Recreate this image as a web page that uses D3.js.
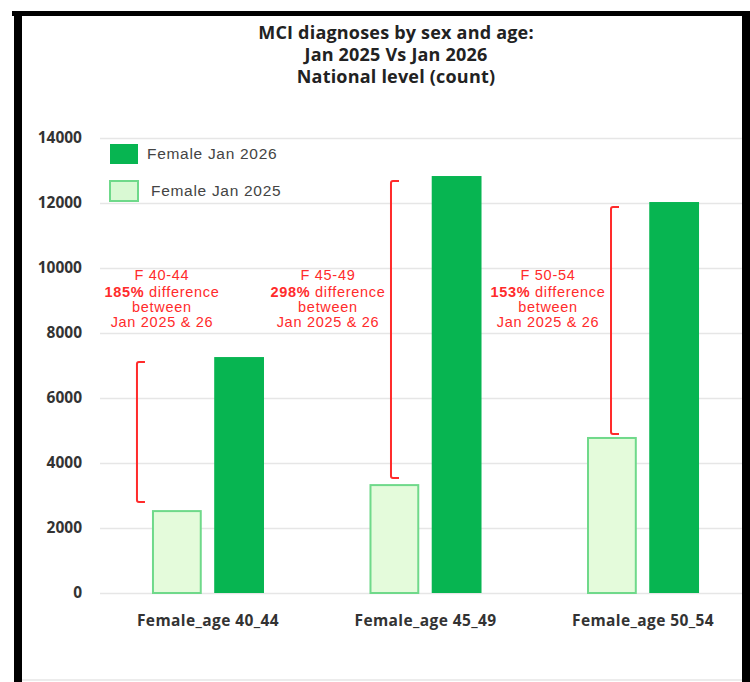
<!DOCTYPE html>
<html>
<head>
<meta charset="utf-8">
<script src="https://cdn.jsdelivr.net/npm/d3@7"></script>
<style>
  body { margin: 0; background: #fff; }
  svg { display: block; }
</style>
</head>
<body>
<div id="chart"></div>
<script>
// chart data
const categories = ['Female_age 40_44', 'Female_age 45_49', 'Female_age 50_54'];
const seriesNames = ['Female Jan 2025', 'Female Jan 2026'];
const jan2025 = [2520, 3320, 4770];
const jan2026 = [7260, 12830, 12030];
const yTicks = [0, 2000, 4000, 6000, 8000, 10000, 12000, 14000];
const titleLines = ['MCI diagnoses by sex and age:', 'Jan 2025 Vs Jan 2026', 'National level (count)'];

// red annotations
const annoAges = ['F 40-44', 'F 45-49', 'F 50-54'];
const annoPct = ['185%', '298%', '153%'];
const bracketTop = [7110, 12680, 11880];
const bracketBottom = [2800, 3540, 4890];

const width = 750, height = 682;
const svg = d3.select('#chart').append('svg')
    .attr('width', width)
    .attr('height', height);

const y = d3.scaleLinear().domain([0, 14000]).range([593, 138]);
const x0 = d3.scaleBand().domain(categories).range([99, 752])
    .paddingInner(0.485).paddingOuter(0.2435);
const x1 = d3.scaleBand().domain(seriesNames).range([0, x0.bandwidth()])
    .paddingInner(0.2);

// gridlines + y labels
const yAxis = svg.append('g')
    .attr('transform', 'translate(100,0)')
    .call(d3.axisLeft(y).tickValues(yTicks).tickSize(-642).tickPadding(18).tickFormat(d3.format('d')));
yAxis.select('.domain').remove();
yAxis.selectAll('.tick line').attr('stroke', '#e6e6e6').attr('stroke-width', 1.5);
yAxis.selectAll('.tick text')
    .attr('fill', '#333')
    .style('font', '700 15.5px "Open Sans", sans-serif');

// x labels
const xAxis = svg.append('g')
    .attr('transform', 'translate(0,593)')
    .call(d3.axisBottom(x0).tickSize(0).tickPadding(22));
xAxis.select('.domain').remove();
xAxis.selectAll('.tick text')
    .attr('fill', '#333')
    .style('font', '700 15.5px "Open Sans", sans-serif')
    .style('letter-spacing', '0.4px');

// bars
const rows = categories.map((c, i) => ({ cat: c, vals: [jan2025[i], jan2026[i]] }));
const groups = svg.selectAll('.grp').data(rows).enter().append('g')
    .attr('transform', d => `translate(${x0(d.cat)},0)`);

groups.selectAll('rect')
    .data(d => d.vals.map((v, j) => ({ key: seriesNames[j], value: v })))
    .enter().append('rect')
    .attr('x', d => x1(d.key) + (d.key === seriesNames[0] ? 1 : 0))
    .attr('width', d => x1.bandwidth() - (d.key === seriesNames[0] ? 2 : 0))
    .attr('y', d => y(d.value))
    .attr('height', d => y(0) - y(d.value))
    .attr('fill', d => d.key === seriesNames[0] ? '#e4fbdb' : '#07b551')
    .attr('stroke', d => d.key === seriesNames[0] ? '#6fd98a' : 'none')
    .attr('stroke-width', 2);

// annotations
const red = '#ff2b2b';
const bracketDx = [-15, 21.5, 24];
const textDx = [10, -41.5, -39];
categories.forEach((c, i) => {
    const bx = x0(c) + bracketDx[i];
    const t = y(bracketTop[i]), b = y(bracketBottom[i]);
    svg.append('path')
        .attr('d', `M${bx + 8},${t} H${bx + 2} Q${bx},${t} ${bx},${t + 2} V${b - 2} Q${bx},${b} ${bx + 2},${b} H${bx + 8}`)
        .attr('fill', 'none')
        .attr('stroke', red)
        .attr('stroke-width', 2);

    const tx = x0(c) + textDx[i];
    const txt = svg.append('text')
        .attr('text-anchor', 'middle')
        .attr('fill', red)
        .style('font', '14.5px "Liberation Sans", Arial, sans-serif')
        .style('letter-spacing', '0.7px');
    txt.append('tspan').attr('x', tx).attr('y', 280).text(annoAges[i]);
    const l2 = txt.append('tspan').attr('x', tx).attr('y', 297);
    l2.append('tspan').attr('font-weight', 700).text(annoPct[i]);
    l2.append('tspan').text(' difference');
    txt.append('tspan').attr('x', tx).attr('y', 312).text('between');
    txt.append('tspan').attr('x', tx).attr('y', 327).text('Jan 2025 & 26');
});

// legend
const legend = svg.append('g');
const legendItems = [
    { name: seriesNames[1], sy: 144, tx: 147, fill: '#07b551', stroke: 'none' },
    { name: seriesNames[0], sy: 181, tx: 151, fill: '#d9f9d3', stroke: '#6fd98a' }
];
legendItems.forEach(d => {
    legend.append('rect')
        .attr('x', 110).attr('y', d.sy)
        .attr('width', 28).attr('height', 20)
        .attr('fill', d.fill)
        .attr('stroke', d.stroke)
        .attr('stroke-width', 2);
    legend.append('text')
        .attr('x', d.tx).attr('y', d.sy + 15)
        .attr('fill', '#444')
        .style('font', '15.5px "Liberation Sans", Arial, sans-serif')
        .style('letter-spacing', '0.7px')
        .text(d.name);
});

// title
svg.append('text')
    .attr('text-anchor', 'middle')
    .attr('fill', '#222')
    .style('font', '700 18px "Open Sans", sans-serif')
    .style('letter-spacing', '0.2px')
    .selectAll('tspan').data(titleLines).enter().append('tspan')
    .attr('x', 396)
    .attr('y', (d, i) => 39 + i * 22)
    .text(d => d);

// frame
svg.append('line').attr('x1', 22).attr('x2', 742).attr('y1', 680).attr('y2', 680)
    .attr('stroke', '#e6e6e6').attr('stroke-width', 1.5);
svg.append('rect').attr('x', 12).attr('y', 11).attr('width', 738).attr('height', 5).attr('fill', '#000');
svg.append('rect').attr('x', 14).attr('y', 11).attr('width', 8).attr('height', 671).attr('fill', '#000');
svg.append('rect').attr('x', 742).attr('y', 11).attr('width', 8).attr('height', 671).attr('fill', '#000');
</script>
</body>
</html>
